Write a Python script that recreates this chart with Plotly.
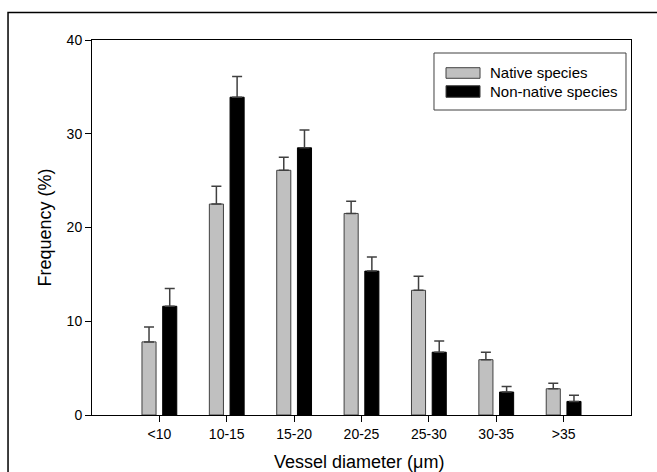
import plotly.graph_objects as go

categories = ["<10", "10-15", "15-20", "20-25", "25-30", "30-35", ">35"]
native = [7.8, 22.5, 26.1, 21.5, 13.3, 5.9, 2.8]
native_err = [1.6, 1.9, 1.4, 1.3, 1.5, 0.8, 0.6]
nonnative = [11.6, 33.9, 28.5, 15.35, 6.7, 2.45, 1.45]
nonnative_err = [1.9, 2.2, 1.9, 1.5, 1.2, 0.6, 0.65]
y_ticks = [0, 10, 20, 30, 40]
series_names = ["Native species", "Non-native species"]
series_colors = ["#c0c0c0", "#000000"]
x_title = "Vessel diameter (μm)"
y_title = "Frequency (%)"

font = "Liberation Sans, Arial, sans-serif"
fig = go.Figure()
fig.add_trace(go.Bar(
    x=categories, y=native, name=series_names[0],
    marker=dict(color=series_colors[0], line=dict(color="#404040", width=1)),
    error_y=dict(type="data", array=native_err, symmetric=False,
                 arrayminus=[0] * len(native), color="#404040", thickness=1.5, width=5),
))
fig.add_trace(go.Bar(
    x=categories, y=nonnative, name=series_names[1],
    marker=dict(color=series_colors[1], line=dict(color="#000000", width=1)),
    error_y=dict(type="data", array=nonnative_err, symmetric=False,
                 arrayminus=[0] * len(nonnative), color="#404040", thickness=1.5, width=5),
))

# legend drawn as a framed box with wide swatches (like the original)
shapes = [
    dict(type="rect", xref="paper", yref="paper",
         x0=-0.1558, x1=1.3, y0=-0.3, y1=1.0733,
         line=dict(color="black", width=1.5), layer="below"),
    dict(type="rect", xref="paper", yref="paper",
         x0=0.6345, x1=0.9907, y0=0.8133, y1=0.9653,
         line=dict(color="#404040", width=1), fillcolor="white"),
]
annotations = []
sw_rows = [(0.8979, 0.9261, 0.912), (0.8472, 0.8781, 0.8627)]
for (y0, y1, yc), name, col in zip(sw_rows, series_names, series_colors):
    shapes.append(dict(type="rect", xref="paper", yref="paper",
                       x0=0.6568, x1=0.7199, y0=y0, y1=y1,
                       line=dict(color="#404040", width=1), fillcolor=col))
    annotations.append(dict(xref="paper", yref="paper", x=0.7347, y=yc,
                            xanchor="left", yanchor="middle", text=name,
                            showarrow=False, font=dict(size=15, family=font)))

# axis titles
annotations.append(dict(xref="paper", yref="paper", x=0.495, y=-0.1253,
                        xanchor="center", yanchor="middle", text=x_title,
                        showarrow=False, font=dict(size=18, family=font)))
annotations.append(dict(xref="paper", yref="paper", x=-0.0872, y=0.5,
                        xanchor="center", yanchor="middle", text=y_title,
                        textangle=-90, showarrow=False,
                        font=dict(size=18, family=font)))

fig.update_layout(
    width=657, height=472,
    margin=dict(l=92, r=26, t=40, b=57),
    paper_bgcolor="white", plot_bgcolor="white",
    barmode="group", bargap=0.385, bargroupgap=0.32,
    font=dict(family=font, size=14, color="black"),
    showlegend=False,
    xaxis=dict(
        range=[-1, 7], showline=True, linecolor="black", linewidth=1,
        mirror=True, ticks="outside", ticklen=6, tickcolor="black",
        tickfont=dict(size=14), showgrid=False, zeroline=False,
        automargin=False,
    ),
    yaxis=dict(
        range=[0, 40], tickvals=y_ticks, showline=True, linecolor="black",
        linewidth=1, mirror=True, ticks="outside", ticklen=6, tickcolor="black",
        tickfont=dict(size=14), showgrid=False, zeroline=False,
        automargin=False,
    ),
    shapes=shapes,
    annotations=annotations,
)

fig.write_html("out.html", config={"displayModeBar": False},
               post_script="document.body.style.margin='0';")
